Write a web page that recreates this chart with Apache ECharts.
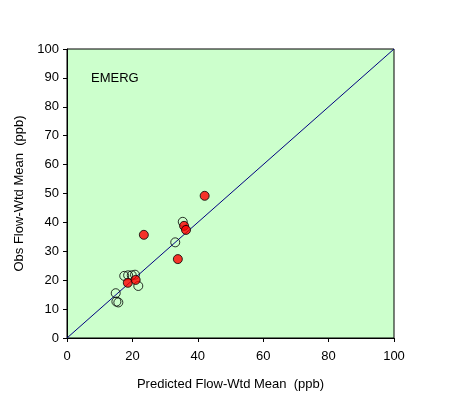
<!DOCTYPE html>
<html lang="en">
<head>
    <meta charset="UTF-8">
    <title>EMERG</title>
    <style>
        html, body { margin: 0; padding: 0; background: #ffffff; }
        #chart { width: 449px; height: 398px; }
    </style>
</head>
<body>
<div id="chart"></div>
<script src="https://cdn.jsdelivr.net/npm/echarts@6/dist/echarts.min.js"></script>
<script>
    // hollow markers: [predicted, observed]
    const openPoints = [
        [14.9, 15.5], [15.1, 12.6], [15.7, 12.3],
        [17.5, 21.5], [18.7, 21.7], [19.8, 21.7], [20.8, 21.9],
        [21.8, 18.0], [33.1, 33.1], [35.4, 40.2]
    ];
    // red markers
    const redPoints = [
        [18.6, 19.1], [21.0, 20.1], [23.5, 35.7], [33.9, 27.3],
        [35.8, 38.8], [36.4, 37.4], [42.1, 49.2]
    ];
    const oneToOne = [[0, 0], [100, 100]];
    const panelLabel = 'EMERG';
    const xName = 'Predicted Flow-Wtd Mean  (ppb)';
    const yName = 'Obs Flow-Wtd Mean  (ppb)';

    const font = 'Arial, "Liberation Sans", sans-serif';
    let myChart = echarts.init(document.getElementById('chart'));

    const axisCommon = {
        min: 0, max: 100, interval: 20,
        axisLine: { onZero: false, lineStyle: { color: '#000', width: 1 } },
        axisTick: { inside: false, length: 4, lineStyle: { color: '#000' } },
        axisLabel: { color: '#000', fontSize: 13, fontFamily: font },
        splitLine: { show: false },
        nameLocation: 'middle',
        nameTextStyle: { color: '#000', fontSize: 13, fontFamily: font }
    };

    myChart.setOption({
        animation: false,
        backgroundColor: '#ffffff',
        title: {
            text: panelLabel, left: 91, top: 72, padding: 0,
            textStyle: { fontSize: 13, fontWeight: 'normal', color: '#000', fontFamily: font }
        },
        grid: {
            left: 67, right: 55, top: 49, bottom: 60,
            show: true, backgroundColor: '#CCFFCC', borderColor: '#000', borderWidth: 1
        },
        xAxis: Object.assign({}, axisCommon, {
            type: 'value', name: xName, nameGap: 40,
            axisLabel: { color: '#000', fontSize: 13, fontFamily: font, margin: 12 }
        }),
        yAxis: Object.assign({}, axisCommon, {
            type: 'value', name: yName, nameGap: 36, interval: 10
        }),
        series: [
            {
                type: 'line', data: oneToOne, symbol: 'none',
                lineStyle: { color: '#000080', width: 1 }, z: 1
            },
            {
                type: 'scatter', data: openPoints, symbolSize: 9,
                itemStyle: { color: 'transparent', borderColor: '#000', borderWidth: 1 }, z: 2
            },
            {
                type: 'scatter', data: redPoints, symbolSize: 9,
                itemStyle: { color: '#FF0000', borderColor: '#000', borderWidth: 1 }, z: 3
            }
        ]
    });
</script>
</body>
</html>
